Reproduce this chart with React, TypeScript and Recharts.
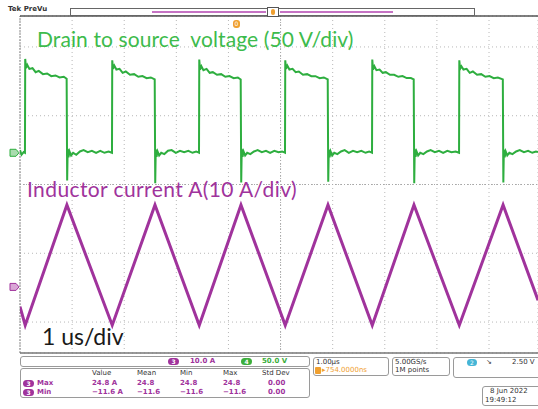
import React from 'react';
import { ComposedChart, Line, XAxis, YAxis, CartesianGrid, ReferenceLine, ReferenceDot } from 'recharts';

// time in microseconds (1 us/div), 10 divisions on screen
const timeTicks = [0, 1, 2, 3, 4, 5, 6, 7, 8, 9];
// screen grid rows (in grid divisions from center)
const gridRows = [-2, -1, 0, 1, 2];

// Drain-to-source voltage (V) vs time (us)
const voltageTrace: [number, number][] = [
  [0.0, 4], [0.03, -3], [0.07, 1], [0.095, 0],
  [0.1, 142], [0.115, 128], [0.14, 133], [0.18, 127], [0.24, 128], [0.3, 122], [0.36, 124], [0.44, 119], [0.52, 120], [0.6, 116], [0.68, 117], [0.76, 114], [0.84, 115], [0.895, 112],
  [0.905, -42], [0.915, 6], [0.93, -7], [0.95, 2], [0.98, -4], [1.02, 0], [1.08, -3], [1.15, 2], [1.22, 4], [1.3, 1], [1.38, 3], [1.46, 0], [1.54, 3], [1.62, 0], [1.7, 2], [1.765, 0],
  [1.77, 140], [1.785, 127], [1.81, 132], [1.85, 126], [1.91, 127], [1.97, 121], [2.03, 123], [2.11, 118], [2.19, 119], [2.27, 115], [2.35, 116], [2.43, 113], [2.51, 114], [2.585, 111],
  [2.595, -46], [2.605, 5], [2.62, -6], [2.64, 2], [2.67, -4], [2.71, 0], [2.77, -2], [2.84, 3], [2.91, 4], [2.99, 0], [3.07, 3], [3.15, 1], [3.23, 3], [3.31, 0], [3.38, 2], [3.435, 0],
  [3.44, 141], [3.455, 126], [3.48, 131], [3.52, 125], [3.58, 127], [3.64, 121], [3.7, 122], [3.78, 118], [3.86, 119], [3.94, 115], [4.02, 116], [4.1, 113], [4.18, 114], [4.235, 111],
  [4.245, -45], [4.255, 6], [4.27, -6], [4.29, 2], [4.32, -4], [4.36, 0], [4.42, -2], [4.49, 2], [4.56, 4], [4.64, 1], [4.72, 3], [4.8, 0], [4.88, 3], [4.96, 1], [5.03, 2], [5.085, 0],
  [5.09, 140], [5.105, 127], [5.13, 132], [5.17, 126], [5.23, 127], [5.29, 122], [5.35, 123], [5.43, 118], [5.51, 119], [5.59, 116], [5.67, 116], [5.75, 113], [5.83, 114], [5.905, 111],
  [5.915, -44], [5.925, 5], [5.94, -7], [5.96, 2], [5.99, -4], [6.03, 0], [6.09, -2], [6.16, 2], [6.23, 4], [6.31, 0], [6.39, 3], [6.47, 1], [6.55, 3], [6.63, 0], [6.7, 2], [6.755, 0],
  [6.76, 141], [6.775, 126], [6.8, 131], [6.84, 125], [6.9, 126], [6.96, 121], [7.02, 122], [7.1, 118], [7.18, 118], [7.26, 115], [7.34, 116], [7.42, 113], [7.5, 113], [7.555, 111],
  [7.565, -46], [7.575, 6], [7.59, -6], [7.61, 2], [7.64, -4], [7.68, 0], [7.74, -2], [7.81, 2], [7.88, 4], [7.96, 1], [8.04, 3], [8.12, 0], [8.2, 3], [8.28, 1], [8.36, 2], [8.425, 0],
  [8.43, 140], [8.445, 127], [8.47, 131], [8.51, 126], [8.57, 127], [8.63, 121], [8.69, 123], [8.77, 118], [8.85, 119], [8.93, 115], [9.01, 116], [9.09, 113], [9.17, 114], [9.265, 111],
  [9.275, -45], [9.285, 5], [9.3, -7], [9.32, 2], [9.35, -4], [9.39, 0], [9.45, -2], [9.52, 2], [9.59, 4], [9.67, 1], [9.75, 3], [9.83, 0], [9.9, 2], [9.94, 1],
];

// Inductor current (A) vs time (us)
const currentTrace: [number, number][] = [
  [0.0, -6], [0.1, -11.6], [0.9, 24.8], [1.77, -11.6], [2.59, 24.8], [3.44, -11.6], [4.24, 24.8],
  [5.09, -11.6], [5.91, 24.8], [6.76, -11.6], [7.56, 24.8], [8.43, -11.6], [9.27, 24.8], [9.94, -4],
];

const measHeaders = ['Value', 'Mean', 'Min', 'Max', 'Std Dev'];
const measMax = ['24.8 A', '24.8', '24.8', '24.8', '0.00'];
const measMin = ['\u221211.6 A', '\u221211.6', '\u221211.6', '\u221211.6', '0.00'];

const vData = voltageTrace.map(([t, v]) => ({ t, v }));
const aData = currentTrace.map(([t, a]) => ({ t, a }));

const GREEN = '#2eae3f';
const GREEN_TXT = '#3dbb4c';
const PURPLE = '#a0339c';
const PANEL_FONT = '"DejaVu Sans", sans-serif';

const T = ({ x, y, children, style }: any) => (
  <div style={{ position: 'absolute', left: x, top: y, whiteSpace: 'nowrap', lineHeight: 1, ...style }}>{children}</div>
);

const Badge = ({ x, y, color, n }: any) => (
  <div style={{ position: 'absolute', left: x, top: y, width: 11, height: 7, borderRadius: 4, background: color, color: '#fff', fontSize: 6, fontFamily: PANEL_FONT, fontWeight: 'bold', textAlign: 'center', lineHeight: '7px' }}>{n}</div>
);

const Box = ({ x, y, w, h }: any) => (
  <div style={{ position: 'absolute', left: x, top: y, width: w, height: h, border: '1px solid #9a9a9a', borderRadius: 3, boxSizing: 'border-box' }} />
);

const GroundMarker = (color: string, fill: string) => (props: any) => {
  const { cx, cy } = props;
  const x = cx - 10;
  return (
    <path d={`M${x},${cy - 3.5} h6 l3,3.5 l-3,3.5 h-6 z`} fill={fill} stroke={color} strokeWidth={1} />
  );
};

export default function App() {
  const panel = { fontFamily: PANEL_FONT, fontSize: 7 } as any;
  const mCols = [92, 137, 180, 223, 262];
  return (
    <div style={{ position: 'absolute', left: 0, top: 0, width: 538, height: 409, overflow: 'hidden', background: '#fff' }}>
      <ComposedChart width={538} height={409} margin={{ top: 16, right: 0, bottom: 56, left: 20 }}>
        <XAxis type="number" dataKey="t" domain={[0, 9.94]} ticks={timeTicks} allowDataOverflow hide />
        <YAxis yAxisId="grid" type="number" domain={[-2.45, 2.45]} ticks={gridRows} allowDataOverflow hide />
        <YAxis yAxisId="v" type="number" domain={[-303, 207]} allowDataOverflow hide />
        <YAxis yAxisId="a" type="number" domain={[-20, 82]} allowDataOverflow hide />
        <CartesianGrid yAxisId="grid" stroke="#b8b8b8" strokeDasharray="1 3" />
        <ReferenceLine yAxisId="grid" y={0} stroke="#a8a8a8" strokeDasharray="1 2" />
        <ReferenceLine yAxisId="grid" x={5} stroke="#a8a8a8" strokeDasharray="1 2" />
        <ReferenceLine yAxisId="grid" x={0} stroke="#8a8a8a" strokeDasharray="2 1" />
        <ReferenceLine yAxisId="grid" y={2.45} stroke="#555" strokeWidth={1.5} />
        <ReferenceLine yAxisId="grid" y={-2.45} stroke="#777" strokeWidth={1.5} />
        <Line yAxisId="v" data={vData} dataKey="v" type="linear" stroke={GREEN} strokeWidth={2} dot={false} isAnimationActive={false} />
        <Line yAxisId="a" data={aData} dataKey="a" type="linear" stroke={PURPLE} strokeWidth={3} dot={false} isAnimationActive={false} />
        <ReferenceDot yAxisId="v" x={0} y={0} ifOverflow="visible" shape={GroundMarker(GREEN, '#a9dcae')} />
        <ReferenceDot yAxisId="a" x={0} y={0} ifOverflow="visible" shape={GroundMarker(PURPLE, '#d9a6d6')} />
      </ComposedChart>

      {/* top bar */}
      <T x={8} y={6} style={{ fontFamily: PANEL_FONT, fontSize: 7, fontWeight: 'bold', color: '#333' }}>Tek PreVu</T>
      <div style={{ position: 'absolute', left: 70, top: 8, width: 405, height: 8, border: '1px solid #666', boxSizing: 'border-box', background: '#fff' }} />
      <div style={{ position: 'absolute', left: 152, top: 11, width: 114, height: 2, background: '#c673c4' }} />
      <div style={{ position: 'absolute', left: 280, top: 11, width: 113, height: 2, background: '#c673c4' }} />
      <div style={{ position: 'absolute', left: 267, top: 7, width: 12, height: 10, border: '1px solid #555', boxSizing: 'border-box', background: '#fff' }} />
      <div style={{ position: 'absolute', left: 271, top: 9, width: 4, height: 6, borderRadius: 2, background: '#f0a030' }} />
      <div style={{ position: 'absolute', left: 233, top: 20, width: 7, height: 8, borderRadius: 3, background: '#f0a030', color: '#fff', fontSize: 6, fontFamily: PANEL_FONT, textAlign: 'center', lineHeight: '8px' }}>0</div>

      {/* labels */}
      <T x={37} y={28} style={{ fontFamily: 'Lato, sans-serif', fontSize: 21, color: GREEN_TXT, letterSpacing: 0.1 }}>Drain to source&nbsp; voltage (50 V/div)</T>
      <T x={27} y={178} style={{ fontFamily: 'Lato, sans-serif', fontSize: 21, color: PURPLE, letterSpacing: 0.4 }}>Inductor current A(10 A/div)</T>
      <T x={42} y={325} style={{ fontFamily: 'Lato, sans-serif', fontSize: 23, color: '#1a1a1a' }}>1 us/div</T>

      {/* bottom panel */}
      <Box x={20} y={356} w={290} h={11} />
      <Badge x={168} y={358} color={PURPLE} n="3" />
      <T x={190} y={358} style={{ ...panel, color: PURPLE, fontWeight: 'bold' }}>10.0 A</T>
      <Badge x={241} y={358} color="#3cae3c" n="4" />
      <T x={262} y={358} style={{ ...panel, color: '#3cae3c', fontWeight: 'bold' }}>50.0 V</T>

      <Box x={20} y={368} w={290} h={30} />
      {measHeaders.map((h, i) => (
        <T key={h} x={mCols[i]} y={370} style={{ ...panel, color: '#333' }}>{h}</T>
      ))}
      <Badge x={23} y={380} color={PURPLE} n="3" />
      <T x={37} y={380} style={{ ...panel, color: PURPLE, fontWeight: 'bold' }}>Max</T>
      {measMax.map((v, i) => (
        <T key={'mx' + i} x={mCols[i] + (i === 4 ? 6 : 0)} y={380} style={{ ...panel, color: PURPLE, fontWeight: 'bold' }}>{v}</T>
      ))}
      <Badge x={23} y={389} color={PURPLE} n="3" />
      <T x={37} y={389} style={{ ...panel, color: PURPLE, fontWeight: 'bold' }}>Min</T>
      {measMin.map((v, i) => (
        <T key={'mn' + i} x={mCols[i] + (i === 4 ? 6 : 0)} y={389} style={{ ...panel, color: PURPLE, fontWeight: 'bold' }}>{v}</T>
      ))}

      <Box x={313} y={357} w={76} h={19} />
      <T x={316} y={359} style={{ ...panel, color: '#333' }}>1.00µs</T>
      <div style={{ position: 'absolute', left: 315, top: 367, width: 6, height: 7, borderRadius: 1, background: '#f0a030' }} />
      <T x={322} y={367} style={{ ...panel, color: '#f0a030' }}>▸754.0000ns</T>

      <Box x={392} y={357} w={58} h={19} />
      <T x={395} y={359} style={{ ...panel, color: '#333' }}>5.00GS/s</T>
      <T x={395} y={367} style={{ ...panel, color: '#333' }}>1M points</T>

      <Box x={453} y={357} w={90} h={21} />
      <div style={{ position: 'absolute', left: 467, top: 359, width: 10, height: 7, borderRadius: 4, background: '#45b5d6', color: '#fff', fontSize: 6, fontFamily: PANEL_FONT, textAlign: 'center', lineHeight: '7px' }}>2</div>
      <T x={486} y={359} style={{ ...panel, color: '#333' }}>↘</T>
      <T x={512} y={359} style={{ ...panel, color: '#333' }}>2.50 V</T>

      <Box x={482} y={386} w={60} h={20} />
      <T x={490} y={388} style={{ ...panel, color: '#333' }}>8 Jun 2022</T>
      <T x={485} y={397} style={{ ...panel, color: '#333' }}>19:49:12</T>
    </div>
  );
}
